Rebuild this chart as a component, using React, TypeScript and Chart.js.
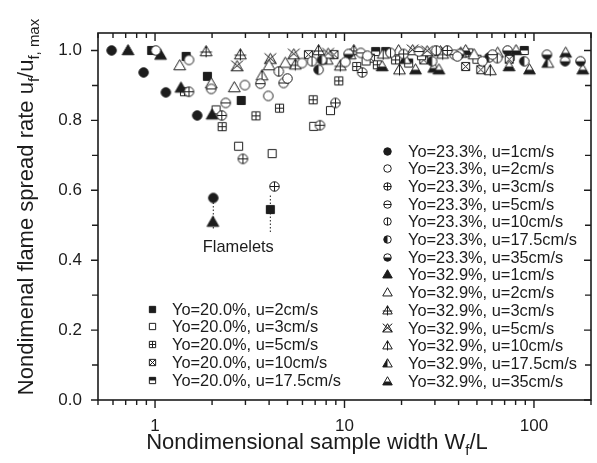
import React, { useEffect, useRef } from 'react';
import { Chart, registerables } from 'chart.js';
Chart.register(...registerables);

const FONT = "'Liberation Sans', Arial, Helvetica, sans-serif";
const INK = '#1c1c1c';

// ---- data: [W_f/L, u_f/u_f,max] ----
const yo20_u2: [number, number][] = [[0.96, 1.0], [1.46, 0.983], [1.89, 0.926], [2.85, 0.857], [4.06, 0.545]];
const yo20_u3: [number, number][] = [[2.1, 0.83], [2.76, 0.726], [4.15, 0.705], [6.88, 0.783], [8.43, 0.828], [13.0, 0.97], [25.5, 0.985], [50, 0.975]];
const yo20_u5: [number, number][] = [[1.43, 0.882], [2.26, 0.782], [3.41, 0.813], [4.54, 0.835], [6.83, 0.859], [9.33, 0.913], [11.6, 0.954], [14.9, 0.959], [18.6, 0.973], [45.3, 0.993]];
const yo20_u10: [number, number][] = [[6.45, 0.988], [8.8, 0.988], [13.7, 0.978], [26.2, 0.973], [43.6, 0.954], [52.4, 0.945], [74, 0.975]];
const yo20_u175: [number, number][] = [[14.6, 0.997], [16.5, 0.997], [21.8, 0.964], [74.9, 0.983], [88.9, 1.0]];

const yo23_u1: [number, number][] = [[0.59, 1.0], [0.87, 0.937], [1.14, 0.88], [1.67, 0.814], [2.03, 0.578]];
const yo23_u2: [number, number][] = [[1.01, 1.0], [1.51, 0.973], [2.98, 0.901], [3.96, 0.87], [5.0, 0.92], [5.97, 0.964], [10.1, 0.967], [13.2, 0.985], [39.4, 0.983], [53.5, 0.969]];
const yo23_u3: [number, number][] = [[1.51, 0.882], [2.25, 0.814], [2.91, 0.69], [4.27, 0.611], [7.42, 0.786], [8.96, 0.85], [12.4, 0.937], [20.5, 0.99], [34.9, 1.0]];
const yo23_u5: [number, number][] = [[1.98, 0.89], [2.36, 0.85], [3.6, 0.905], [4.77, 0.907], [12.2, 0.993], [24.7, 0.997], [38, 0.988], [60.4, 0.988]];
const yo23_u10: [number, number][] = [[4.5, 0.94], [6.74, 0.969], [17.5, 0.993], [30.5, 1.0], [64, 0.978]];
const yo23_u175: [number, number][] = [[7.3, 0.945], [7.6, 0.973], [29, 0.969], [58, 0.98], [88.9, 0.969]];
const yo23_u35: [number, number][] = [[10.5, 0.99], [40.5, 0.99], [72.5, 1.0], [117, 0.988], [146, 0.969], [176, 0.969]];

const yo32_u1: [number, number][] = [[0.72, 1.0], [1.07, 0.987], [1.37, 0.893], [2.0, 0.816], [2.02, 0.509]];
const yo32_u2: [number, number][] = [[1.35, 0.957], [1.98, 0.905], [2.62, 0.894], [4.0, 0.957], [4.87, 0.964], [10.7, 0.988], [19.3, 1.0], [48.3, 0.988], [64.3, 0.993]];
const yo32_u3: [number, number][] = [[1.86, 0.997], [2.82, 0.988], [5.5, 0.959], [7.3, 1.0], [9.5, 0.956], [11.2, 1.0], [33, 0.99]];
const yo32_u5: [number, number][] = [[2.71, 0.954], [4.06, 0.975], [5.4, 0.988], [8.2, 0.99], [22.9, 1.0], [27.3, 0.997], [32.1, 0.997]];
const yo32_u10: [number, number][] = [[3.67, 0.928], [16, 0.99], [19.5, 0.945], [58.8, 0.943]];
const yo32_u175: [number, number][] = [[8.1, 0.973], [20.9, 0.975], [41.1, 0.993], [118.4, 0.964]];
const yo32_u35: [number, number][] = [[15.8, 0.954], [23.7, 0.945], [29.6, 0.95], [31.5, 0.945], [43.6, 1.0], [73.9, 0.954], [80.4, 1.0], [94.7, 0.945], [147, 0.993], [181, 0.945]];

// flamelet dotted markers: [x, yTop, yBottom]
const flameletLines: [number, number, number][] = [[2.03, 0.565, 0.485], [4.06, 0.585, 0.48]];
const flameletLabel = 'Flamelets';
const flameletLabelAt: [number, number] = [2.75, 0.436];

const xMin = 0.5;
const xMax = 200;
const yMin = 0;
const yMax = 1.05;
const xMajorTicks = [1, 10, 100];
const xMinorTicks = [0.5, 0.6, 0.7, 0.8, 0.9, 2, 3, 4, 5, 6, 7, 8, 9, 20, 30, 40, 50, 60, 70, 80, 90, 200];
const yMajorTicks = [0, 0.2, 0.4, 0.6, 0.8, 1.0];
const yMinorTicks = [0.1, 0.3, 0.5, 0.7, 0.9];

type Shape = 'circle' | 'square' | 'triangle';
type Fill = 'solid' | 'open' | 'plus' | 'hline' | 'vline' | 'cross' | 'left' | 'top' | 'bottom';

interface SeriesDef { label: string; data: [number, number][]; shape: Shape; fill: Fill; group: 'left' | 'right'; }

const series: SeriesDef[] = [
  { label: 'Yo=23.3%, u=1cm/s', data: yo23_u1, shape: 'circle', fill: 'solid', group: 'right' },
  { label: 'Yo=23.3%, u=2cm/s', data: yo23_u2, shape: 'circle', fill: 'open', group: 'right' },
  { label: 'Yo=23.3%, u=3cm/s', data: yo23_u3, shape: 'circle', fill: 'plus', group: 'right' },
  { label: 'Yo=23.3%, u=5cm/s', data: yo23_u5, shape: 'circle', fill: 'hline', group: 'right' },
  { label: 'Yo=23.3%, u=10cm/s', data: yo23_u10, shape: 'circle', fill: 'vline', group: 'right' },
  { label: 'Yo=23.3%, u=17.5cm/s', data: yo23_u175, shape: 'circle', fill: 'left', group: 'right' },
  { label: 'Yo=23.3%, u=35cm/s', data: yo23_u35, shape: 'circle', fill: 'bottom', group: 'right' },
  { label: 'Yo=32.9%, u=1cm/s', data: yo32_u1, shape: 'triangle', fill: 'solid', group: 'right' },
  { label: 'Yo=32.9%, u=2cm/s', data: yo32_u2, shape: 'triangle', fill: 'open', group: 'right' },
  { label: 'Yo=32.9%, u=3cm/s', data: yo32_u3, shape: 'triangle', fill: 'plus', group: 'right' },
  { label: 'Yo=32.9%, u=5cm/s', data: yo32_u5, shape: 'triangle', fill: 'cross', group: 'right' },
  { label: 'Yo=32.9%, u=10cm/s', data: yo32_u10, shape: 'triangle', fill: 'vline', group: 'right' },
  { label: 'Yo=32.9%, u=17.5cm/s', data: yo32_u175, shape: 'triangle', fill: 'left', group: 'right' },
  { label: 'Yo=32.9%, u=35cm/s', data: yo32_u35, shape: 'triangle', fill: 'bottom', group: 'right' },
  { label: 'Yo=20.0%, u=2cm/s', data: yo20_u2, shape: 'square', fill: 'solid', group: 'left' },
  { label: 'Yo=20.0%, u=3cm/s', data: yo20_u3, shape: 'square', fill: 'open', group: 'left' },
  { label: 'Yo=20.0%, u=5cm/s', data: yo20_u5, shape: 'square', fill: 'plus', group: 'left' },
  { label: 'Yo=20.0%, u=10cm/s', data: yo20_u10, shape: 'square', fill: 'cross', group: 'left' },
  { label: 'Yo=20.0%, u=17.5cm/s', data: yo20_u175, shape: 'square', fill: 'top', group: 'left' },
];

function makeMarker(shape: Shape, fill: Fill, size: number): HTMLCanvasElement {
  const D = Math.ceil(size + 5) | 1;
  const c = document.createElement('canvas');
  c.width = D;
  c.height = D;
  const g = c.getContext('2d')!;
  g.translate(D / 2, D / 2);
  const r = size / 2;
  const triS = size * 1.12;
  const triH = triS * 0.866;
  const path = () => {
    g.beginPath();
    if (shape === 'circle') g.arc(0, 0, r, 0, Math.PI * 2);
    else if (shape === 'square') { const h = r * 0.9; g.rect(-h, -h, 2 * h, 2 * h); }
    else { g.moveTo(0, -triH * 0.58); g.lineTo(triS / 2, triH * 0.42); g.lineTo(-triS / 2, triH * 0.42); g.closePath(); }
  };
  path();
  g.fillStyle = fill === 'solid' ? INK : '#ffffff';
  g.fill();
  g.strokeStyle = INK;
  g.lineWidth = 1;
  if (fill === 'left' || fill === 'top' || fill === 'bottom') {
    g.save(); path(); g.clip(); g.fillStyle = INK;
    if (fill === 'left') g.fillRect(-D, -D, D, 2 * D);
    else if (fill === 'top') g.fillRect(-D, -D, 2 * D, D);
    else g.fillRect(-D, 0, 2 * D, D);
    g.restore();
  }
  if (fill === 'plus' || fill === 'hline' || fill === 'vline' || fill === 'cross') {
    g.save();
    if (shape !== 'triangle') { path(); g.clip(); }
    g.beginPath();
    const e = shape === 'triangle' ? triS / 2 : D;
    const top = shape === 'triangle' ? -triH * 0.58 : -D;
    const bot = shape === 'triangle' ? triH * 0.42 + 1.5 : D;
    if (fill === 'plus' || fill === 'hline') { g.moveTo(-e, shape === 'triangle' ? 0.5 : 0); g.lineTo(e, shape === 'triangle' ? 0.5 : 0); }
    if (fill === 'plus' || fill === 'vline') { g.moveTo(0, top); g.lineTo(0, bot); }
    if (fill === 'cross') {
      const k = shape === 'triangle' ? triS / 2 : r;
      const kt = shape === 'triangle' ? -triH * 0.58 : -r;
      const kb = shape === 'triangle' ? triH * 0.42 : r;
      g.moveTo(-k, kt); g.lineTo(k, kb); g.moveTo(k, kt); g.lineTo(-k, kb);
    }
    g.stroke();
    g.restore();
  }
  path();
  g.stroke();
  return c;
}

const markerSize: Record<Shape, number> = { circle: 9.5, square: 9, triangle: 10.5 };
const legendMarkerSize: Record<Shape, number> = { circle: 7.5, square: 7, triangle: 8.5 };

function drawRich(ctx: CanvasRenderingContext2D, parts: { t: string; sub?: boolean }[], size: number) {
  const widths = parts.map((p) => {
    ctx.font = `${p.sub ? size * 0.68 : size}px ${FONT}`;
    return ctx.measureText(p.t).width;
  });
  const total = widths.reduce((a, b) => a + b, 0);
  let x = -total / 2;
  ctx.textAlign = 'left';
  ctx.textBaseline = 'alphabetic';
  parts.forEach((p, i) => {
    ctx.font = `${p.sub ? size * 0.68 : size}px ${FONT}`;
    ctx.fillText(p.t, x, size * 0.36 + (p.sub ? size * 0.28 : 0));
    x += widths[i];
  });
}

export default function App() {
  const ref = useRef<HTMLCanvasElement>(null);
  useEffect(() => {
    const canvas = ref.current!;
    const markers = series.map((s) => makeMarker(s.shape, s.fill, markerSize[s.shape]));
    const legendMarkers = series.map((s) => makeMarker(s.shape, s.fill, legendMarkerSize[s.shape]));

    const framePlugin = {
      id: 'frame',
      afterDatasetsDraw(chart: any) {
        const ctx: CanvasRenderingContext2D = chart.ctx;
        const xs = chart.scales.x;
        const ys = chart.scales.y;
        const { left, right, top, bottom } = chart.chartArea;
        ctx.save();
        ctx.fillStyle = INK;
        ctx.font = `16.4px ${FONT}`;
        ctx.textAlign = 'center';
        ctx.textBaseline = 'middle';
        ctx.fillText(flameletLabel, xs.getPixelForValue(flameletLabelAt[0]), ys.getPixelForValue(flameletLabelAt[1]));
        const rows = { left: { mx: 152, tx: 172, y0: 309, dy: 17.9, i: 0 }, right: { mx: 387, tx: 408, y0: 151, dy: 17.7, i: 0 } };
        series.forEach((s, k) => {
          const g = rows[s.group];
          const y = g.y0 + g.dy * g.i;
          g.i++;
          const m = legendMarkers[k];
          ctx.drawImage(m, Math.round(g.mx - m.width / 2), Math.round(y - m.height / 2));
          ctx.textAlign = 'left';
          ctx.textBaseline = 'middle';
          ctx.fillText(s.label, g.tx, y + 1);
        });
        ctx.strokeStyle = INK;
        ctx.lineWidth = 1.6;
        ctx.strokeRect(left, top, right - left, bottom - top);
        ctx.lineWidth = 1.4;
        ctx.beginPath();
        const xt = (v: number, len: number) => {
          const p = xs.getPixelForValue(v);
          ctx.moveTo(p, bottom); ctx.lineTo(p, bottom + len);
          ctx.moveTo(p, top); ctx.lineTo(p, top + len);
        };
        xMajorTicks.forEach((v) => xt(v, 8));
        xMinorTicks.forEach((v) => xt(v, 5));
        const yt = (v: number, len: number) => {
          const p = ys.getPixelForValue(v);
          ctx.moveTo(left, p); ctx.lineTo(left - len, p);
          ctx.moveTo(right, p); ctx.lineTo(right - len, p);
        };
        yMajorTicks.forEach((v) => yt(v, 7));
        yMinorTicks.forEach((v) => yt(v, 6));
        ctx.stroke();
        ctx.fillStyle = INK;
        ctx.save();
        ctx.translate(317, 441);
        drawRich(ctx, [{ t: 'Nondimensional sample width W' }, { t: 'f', sub: true }, { t: '/L' }], 22);
        ctx.restore();
        ctx.save();
        ctx.translate(25, 207);
        ctx.rotate(-Math.PI / 2);
        drawRich(ctx, [{ t: 'Nondimenal flame spread rate u' }, { t: 'f', sub: true }, { t: '/u' }, { t: 'f, max', sub: true }], 22);
        ctx.restore();
        ctx.restore();
      },
    };

    const datasets: any[] = series.map((s, k) => ({
      type: 'scatter',
      label: s.label,
      data: s.data.map(([x, y]) => ({ x, y })),
      pointStyle: markers[k],
      pointRadius: 5,
      showLine: false,
      order: 0,
    }));
    flameletLines.forEach(([x, y1, y2]) => {
      datasets.push({
        type: 'line',
        label: '',
        data: [{ x, y: y1 }, { x, y: y2 }],
        borderColor: INK,
        borderWidth: 1,
        borderDash: [1.5, 2],
        pointRadius: 0,
        fill: false,
        order: 5,
      });
    });

    const chart = new Chart(canvas, {
      type: 'scatter',
      data: { datasets },
      plugins: [framePlugin],
      options: {
        animation: false,
        responsive: false,
        devicePixelRatio: 1,
        events: [],
        layout: { padding: { top: 33, right: 5, left: 0, bottom: 0 } },
        plugins: { legend: { display: false }, tooltip: { enabled: false } },
        scales: {
          x: {
            type: 'logarithmic',
            min: xMin,
            max: xMax,
            grid: { display: false, drawTicks: false },
            border: { display: false },
            afterBuildTicks: (scale: any) => { scale.ticks = [...xMajorTicks].map((v) => ({ value: v })); },
            afterFit: (scale: any) => { scale.height = 63; },
            ticks: {
              autoSkip: false,
              maxRotation: 0,
              padding: 16,
              color: INK,
              font: { family: FONT, size: 17 },
              callback: (v: any) => String(v),
            },
          },
          y: {
            type: 'linear',
            min: yMin,
            max: yMax,
            grid: { display: false, drawTicks: false },
            border: { display: false },
            afterBuildTicks: (scale: any) => { scale.ticks = yMajorTicks.map((v) => ({ value: v })); },
            afterFit: (scale: any) => { scale.width = 98; },
            ticks: {
              padding: 16,
              color: INK,
              font: { family: FONT, size: 17 },
              callback: (v: any) => Number(v).toFixed(1),
            },
          },
        },
      } as any,
    });
    return () => chart.destroy();
  }, []);
  return (
    <div style={{ position: 'fixed', left: 0, top: 0, width: 597, height: 463, background: '#fff' }}>
      <canvas ref={ref} width={597} height={463} style={{ display: 'block', width: '597px', height: '463px' }} />
    </div>
  );
}
